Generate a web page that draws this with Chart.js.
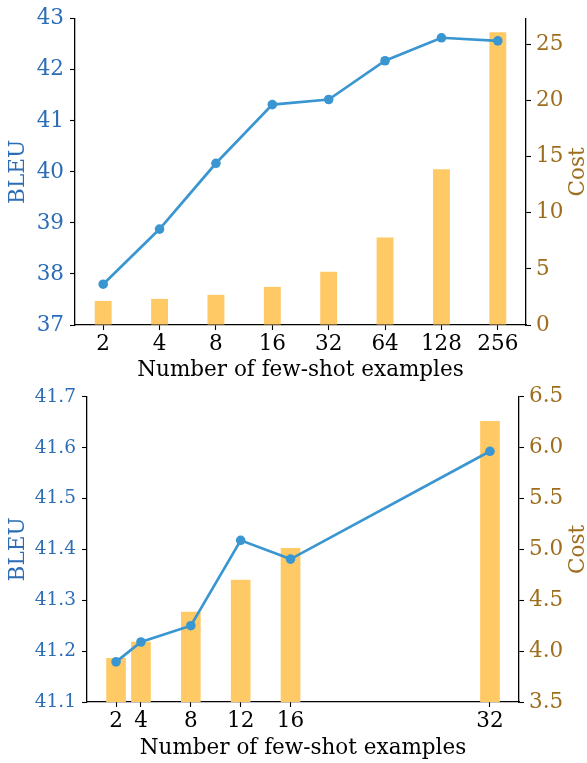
<!DOCTYPE html>
<html><head><meta charset="utf-8">
<script src="https://cdn.jsdelivr.net/npm/chart.js@4.4.1/dist/chart.umd.min.js"></script>
<style>
html,body{margin:0;padding:0;background:#fff;width:587px;height:763px;overflow:hidden;}
canvas{position:absolute;left:0;}
</style></head><body>
<canvas id="c1" width="587" height="383" style="top:0px"></canvas>
<canvas id="c2" width="587" height="384" style="top:379px"></canvas>
<script>
// ---- data ----
const topShots = ['2', '4', '8', '16', '32', '64', '128', '256'];
const topBleu = [37.8, 38.88, 40.17, 41.32, 41.42, 42.18, 42.63, 42.57];
const topCost = [2.15, 2.33, 2.69, 3.4, 4.75, 7.8, 13.9, 26.1];
const topBleuTicks = [37, 38, 39, 40, 41, 42, 43];
const topCostTicks = [0, 5, 10, 15, 20, 25];

const botShots = [2, 4, 8, 12, 16, 32];
const botBleu = [41.179, 41.218, 41.25, 41.418, 41.381, 41.593];
const botCost = [3.93, 4.09, 4.385, 4.7, 5.01, 6.26];
const botBleuTicks = [41.1, 41.2, 41.3, 41.4, 41.5, 41.6, 41.7];
const botCostTicks = [3.5, 4.0, 4.5, 5.0, 5.5, 6.0, 6.5];
const botXTicks = [2, 4, 8, 12, 16, 32];

// ---- style ----
const FONT = "'DejaVu Serif', serif";
const FS = 21.5;
const BLUE_LINE = '#3A96D1';
const BAR = '#FFC966';
const BLUE_TXT = '#2C6DB5';
const BROWN_TXT = '#9E6E1E';

const rightTitle = {
  id: 'rightTitle',
  afterDraw(chart, args, opts) {
    const ctx = chart.ctx, a = chart.chartArea;
    ctx.save();
    ctx.translate(opts.x, (a.top + a.bottom) / 2);
    ctx.rotate(-Math.PI / 2);
    ctx.font = opts.size + 'px ' + FONT;
    ctx.fillStyle = opts.color;
    ctx.textAlign = 'center';
    ctx.textBaseline = 'middle';
    ctx.fillText(opts.text, 0, 0);
    ctx.restore();
  }
};

function fixW(w) { return s => { s.width = w; }; }
function fixH(h) { return s => { s.height = h; }; }
function setTicks(arr) { return s => { s.ticks = arr.map(v => ({ value: v })); }; }

const axisGrid = { display: true, drawOnChartArea: false, drawTicks: true, tickLength: 5, tickWidth: 1.1, tickColor: '#000', offset: false };
const axisBorder = { display: true, color: '#000', width: 1.3 };

// ---- top chart ----
new Chart(document.getElementById('c1'), {
  type: 'bar',
  data: {
    labels: topShots,
    datasets: [
      { type: 'line', label: 'BLEU', data: topBleu, yAxisID: 'y', borderColor: BLUE_LINE, backgroundColor: BLUE_LINE,
        borderWidth: 2.7, pointRadius: 4.8, pointBackgroundColor: BLUE_LINE, pointBorderWidth: 0, order: 0, tension: 0 },
      { type: 'bar', label: 'Cost', data: topCost, yAxisID: 'y1', backgroundColor: BAR,
        barPercentage: 0.3, categoryPercentage: 1.0, order: 1 }
    ]
  },
  options: {
    responsive: false, animation: false, devicePixelRatio: 1,
    layout: { padding: { top: 18, left: 0, right: 0, bottom: 0 } },
    plugins: { legend: { display: false }, tooltip: { enabled: false },
      rightTitle: { text: 'Cost', x: 578, size: FS, color: BROWN_TXT } },
    scales: {
      x: { type: 'category', offset: true, grid: axisGrid, border: axisBorder,
        ticks: { color: '#000', font: { family: FONT, size: FS }, padding: 2, maxRotation: 0, autoSkip: false },
        title: { display: true, text: 'Number of few-shot examples', color: '#000', font: { family: FONT, size: FS }, padding: { top: 0, bottom: 0 } },
        afterFit: fixH(58) },
      y: { type: 'linear', position: 'left', min: 37, max: 43, grid: axisGrid, border: axisBorder,
        afterBuildTicks: setTicks(topBleuTicks),
        ticks: { color: BLUE_TXT, font: { family: FONT, size: FS }, padding: 6, callback: v => String(v) },
        title: { display: true, text: 'BLEU', color: BLUE_TXT, font: { family: FONT, size: FS }, padding: { top: 6, bottom: 0 } },
        afterFit: fixW(75) },
      y1: { type: 'linear', position: 'right', min: 0, max: 27.3, grid: axisGrid, border: axisBorder,
        afterBuildTicks: setTicks(topCostTicks),
        ticks: { color: BROWN_TXT, font: { family: FONT, size: FS }, padding: 5, callback: v => String(v) },
        afterFit: fixW(61) }
    }
  },
  plugins: [rightTitle]
});

// ---- bottom chart ----
new Chart(document.getElementById('c2'), {
  type: 'bar',
  data: {
    datasets: [
      { type: 'line', label: 'BLEU', data: botShots.map((x, i) => ({ x: x, y: botBleu[i] })), yAxisID: 'y',
        borderColor: BLUE_LINE, backgroundColor: BLUE_LINE, borderWidth: 2.7, pointRadius: 4.8,
        pointBackgroundColor: BLUE_LINE, pointBorderWidth: 0, order: 0, tension: 0 },
      { type: 'bar', label: 'Cost', data: botShots.map((x, i) => ({ x: x, y: botCost[i] })), yAxisID: 'y1',
        backgroundColor: BAR, barThickness: 19, order: 1 }
    ]
  },
  options: {
    responsive: false, animation: false, devicePixelRatio: 1,
    layout: { padding: { top: 9, left: 0, right: 0, bottom: 0 } },
    plugins: { legend: { display: false }, tooltip: { enabled: false },
      rightTitle: { text: 'Cost', x: 578, size: FS, color: BROWN_TXT } },
    scales: {
      x: { type: 'linear', min: -0.33, max: 34.33, offset: false, grid: axisGrid, border: axisBorder,
        afterBuildTicks: setTicks(botXTicks),
        ticks: { color: '#000', font: { family: FONT, size: FS }, padding: 2, maxRotation: 0, autoSkip: false, callback: v => String(v) },
        title: { display: true, text: 'Number of few-shot examples', color: '#000', font: { family: FONT, size: FS }, padding: { top: 0, bottom: 2 } },
        afterFit: fixH(61) },
      y: { type: 'linear', position: 'left', min: 41.1, max: 41.7, grid: axisGrid, border: axisBorder,
        afterBuildTicks: setTicks(botBleuTicks),
        ticks: { color: BLUE_TXT, font: { family: FONT, size: 18.5 }, padding: 6, callback: v => v.toFixed(1) },
        title: { display: true, text: 'BLEU', color: BLUE_TXT, font: { family: FONT, size: FS }, padding: { top: 6, bottom: 0 } },
        afterFit: fixW(87) },
      y1: { type: 'linear', position: 'right', min: 3.5, max: 6.5, grid: axisGrid, border: axisBorder,
        afterBuildTicks: setTicks(botCostTicks),
        ticks: { color: BROWN_TXT, font: { family: FONT, size: FS }, padding: 5, callback: v => v.toFixed(1) },
        afterFit: fixW(68) }
    }
  },
  plugins: [rightTitle]
});
</script>
</body></html>
